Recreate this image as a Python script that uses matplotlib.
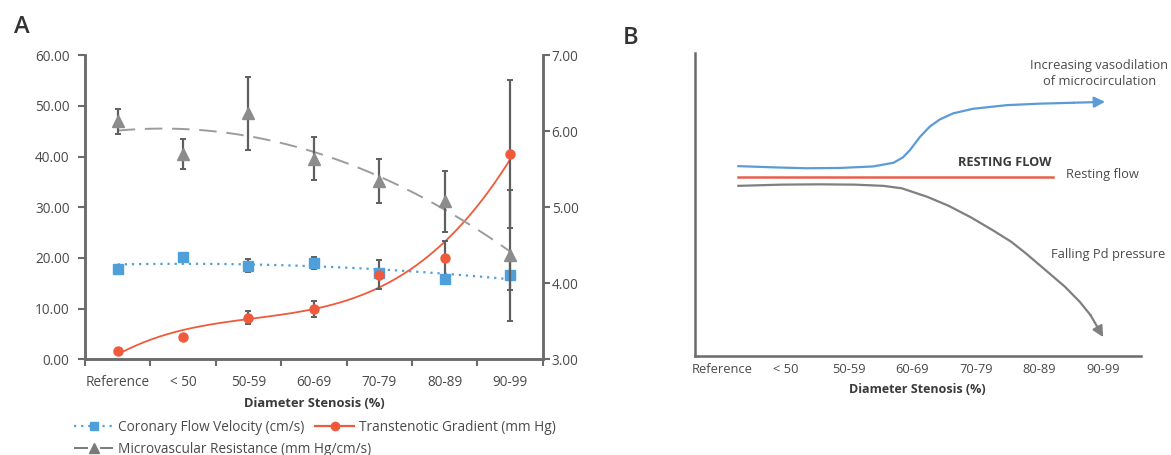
import matplotlib
matplotlib.use('Agg')
import matplotlib.pyplot as plt
import numpy as np
from matplotlib.lines import Line2D

plt.rcParams['font.family'] = ['Open Sans', 'DejaVu Sans']

# ---- panel A data
categories = ['Reference', '< 50', '50-59', '60-69', '70-79', '80-89', '90-99']
cfv = [17.9, 20.1, 18.5, 19.0, 17.1, 15.9, 16.6]
cfv_err = [0, 0, 1.3, 1.2, 0, 0.8, 2.9]
gradient = [1.6, 4.4, 8.2, 10.0, 16.7, 20.0, 40.5]
gradient_err = [0, 0, 1.25, 1.6, 2.9, 3.4, 14.6]
resistance = [6.13, 5.70, 6.24, 5.64, 5.34, 5.08, 4.37]
resistance_err = [0.16, 0.20, 0.48, 0.28, 0.29, 0.40, 0.86]

# ---- panel B schematic curves
blue_x = [0.26, 0.81, 1.33, 1.86, 2.38, 2.70, 2.85, 2.96, 3.12, 3.27, 3.43, 3.64,
          3.95, 4.48, 5.00, 5.53, 6.03]
blue_y = [62.6, 62.2, 61.9, 62.0, 62.5, 63.7, 65.5, 67.9, 72.3, 75.6, 78.0, 80.0,
          81.5, 82.7, 83.2, 83.5, 83.8]
red_x = [0.26, 5.21]
red_y = [59.1, 59.1]
gray_x = [0.26, 0.94, 1.52, 2.09, 2.54, 2.83, 3.23, 3.57, 3.92, 4.26, 4.55, 4.78,
          5.06, 5.40, 5.63, 5.80, 6.00]
gray_y = [56.1, 56.5, 56.6, 56.5, 56.1, 55.3, 52.5, 49.5, 45.7, 41.5, 37.7, 33.9,
          28.9, 22.8, 17.9, 13.5, 6.2]

c_blue = '#4f9fdb'
c_red = '#f05a3c'
c_tri = '#8c8c8c'
c_dash = '#9c9c9c'
c_err = '#5f5f5f'
c_axis = '#6b6b6b'
c_text = '#4a4a4a'

fig = plt.figure(figsize=(11.71, 4.55), dpi=100)

# ================= panel A
ax = fig.add_axes([85 / 1171, 95.7 / 455, 457.7 / 1171, 304 / 455])
ax2 = ax.twinx()
x = np.arange(len(categories))
xf = np.linspace(0, 6, 200)

# trend lines
ax.plot(xf, np.polyval(np.polyfit(x, cfv, 2), xf), color=c_blue, lw=1.6,
        linestyle=(0, (1, 2.2)), zorder=2)
ax.plot(xf, np.polyval(np.polyfit(x, gradient, 3), xf), color=c_red, lw=1.3, zorder=2)
ax2.plot(xf, np.polyval(np.polyfit(x, resistance, 2), xf), color=c_dash, lw=1.4,
         linestyle=(0, (9, 5)), zorder=2)

# error bars
ax.errorbar(x, cfv, yerr=cfv_err, fmt='none', ecolor=c_err, elinewidth=1.6,
            capsize=2.5, capthick=1.4, zorder=3)
ax.errorbar(x, gradient, yerr=gradient_err, fmt='none', ecolor=c_err, elinewidth=1.6,
            capsize=2.5, capthick=1.4, zorder=3)
ax2.errorbar(x, resistance, yerr=resistance_err, fmt='none', ecolor=c_err, elinewidth=1.6,
             capsize=2.5, capthick=1.4, zorder=3)

ax.plot(x, cfv, 's', color=c_blue, ms=6.5, zorder=4)
ax.plot(x, gradient, 'o', color=c_red, ms=6.5, zorder=4)
ax2.plot(x, resistance, '^', color=c_tri, ms=8, zorder=4)

ax.set_xlim(-0.5, 6.5)
ax.set_ylim(0, 60)
ax2.set_ylim(3, 7)
ax.set_yticks(np.arange(0, 61, 10))
ax.set_yticklabels(['%.2f' % v for v in np.arange(0, 61, 10)])
ax2.set_yticks(np.arange(3, 7.1, 1))
ax2.set_yticklabels(['%.2f' % v for v in np.arange(3, 7.1, 1)])

ax.set_xticks(np.arange(-0.5, 6.6, 1))
ax.set_xticklabels([])
ax.set_xticks(x, minor=True)
ax.set_xticklabels(categories, minor=True)
ax.tick_params(axis='x', which='minor', length=0, pad=11, labelsize=9.8, labelcolor=c_text)
ax.tick_params(axis='x', which='major', length=5, width=1.5, color=c_axis)
ax.tick_params(axis='y', length=5, width=1.5, color=c_axis, labelsize=9.8,
               labelcolor=c_text, pad=6)
ax2.tick_params(axis='y', length=5, width=1.5, color=c_axis, labelsize=9.8,
                labelcolor=c_text, pad=1.5)

for a in (ax, ax2):
    a.spines['top'].set_visible(False)
    for s in ('left', 'right', 'bottom'):
        a.spines[s].set_color(c_axis)
        a.spines[s].set_linewidth(1.8)
ax.set_xlabel('Diameter Stenosis (%)', fontsize=9.3, fontweight='bold', color='#3a3a3a',
              labelpad=5)

h_cfv = Line2D([], [], color=c_blue, lw=1.6, linestyle=(0, (1, 2.2)), marker='s', ms=6)
h_grad = Line2D([], [], color=c_red, lw=1.6, marker='o', ms=6)
h_res = Line2D([], [], color='#7a7a7a', lw=1.4, linestyle=(0, (7.2, 6.2)), marker='^',
               markerfacecolor='#7a7a7a', markeredgecolor='#7a7a7a', ms=7)
leg_kw = dict(frameon=False, fontsize=9.8, handlelength=2.9, handletextpad=0.35,
              numpoints=1, borderaxespad=0, borderpad=0, labelcolor=c_text)
fig.legend([h_cfv, h_grad], ['Coronary Flow Velocity (cm/s)', 'Transtenotic Gradient (mm Hg)'],
           loc='center left', bbox_to_anchor=(74 / 1171, 1 - 427.7 / 455), ncol=2,
           columnspacing=0.75, **leg_kw)
fig.legend([h_res], ['Microvascular Resistance (mm Hg/cm/s)'],
           loc='center left', bbox_to_anchor=(74 / 1171, 1 - 449.3 / 455), **leg_kw)

fig.text(14 / 1171, 1 - 27 / 455, 'A', fontsize=17, fontweight='semibold',
         color='#333333', va='center', ha='left')

# ================= panel B
bx = fig.add_axes([694.5 / 1171, 99 / 455, 446.2 / 1171, 303.3 / 455])
bx.set_xlim(-0.43, 6.59)
bx.set_ylim(0, 100)
bx.plot(blue_x[:-1], blue_y[:-1], color='#5b9bd8', lw=1.6, solid_joinstyle='round')
bx.annotate('', xy=(blue_x[-1], blue_y[-1]), xytext=(blue_x[-2], blue_y[-2]),
            arrowprops=dict(arrowstyle='-|>', color='#5b9bd8', lw=1.6,
                            mutation_scale=16, shrinkA=0, shrinkB=0))
bx.plot(red_x, red_y, color='#e8604c', lw=1.8)
bx.plot(gray_x[:-1], gray_y[:-1], color='#7f7f7f', lw=1.6, solid_joinstyle='round')
bx.annotate('', xy=(gray_x[-1], gray_y[-1]), xytext=(gray_x[-2], gray_y[-2]),
            arrowprops=dict(arrowstyle='-|>', color='#7f7f7f', lw=1.6,
                            mutation_scale=16, shrinkA=0, shrinkB=0))

bx.text(5.94, 93.2, 'Increasing vasodilation\nof microcirculation', ha='center',
        va='center', fontsize=9.3, color=c_text, linespacing=1.3)
bx.text(5.19, 63.7, 'RESTING FLOW', ha='right', va='center', fontsize=9.2,
        fontweight='bold', color='#3a3a3a')
bx.text(5.42, 59.7, 'Resting flow', ha='left', va='center', fontsize=9.3, color=c_text)
bx.text(5.18, 33.5, 'Falling Pd pressure', ha='left', va='center', fontsize=9.3,
        color=c_text)

bx.set_xticks(x)
bx.set_xticklabels(categories)
bx.set_yticks([])
bx.tick_params(axis='x', length=0, pad=5, labelsize=9.3, labelcolor=c_text)
bx.spines['top'].set_visible(False)
bx.spines['right'].set_visible(False)
for s in ('left', 'bottom'):
    bx.spines[s].set_color(c_axis)
    bx.spines[s].set_linewidth(1.8)
bx.set_xlabel('Diameter Stenosis (%)', fontsize=9.0, fontweight='bold', color='#3a3a3a',
              labelpad=5)

fig.text(623 / 1171, 1 - 38 / 455, 'B', fontsize=17, fontweight='semibold',
         color='#333333', va='center', ha='left')

fig.savefig('out.png', dpi=100)
